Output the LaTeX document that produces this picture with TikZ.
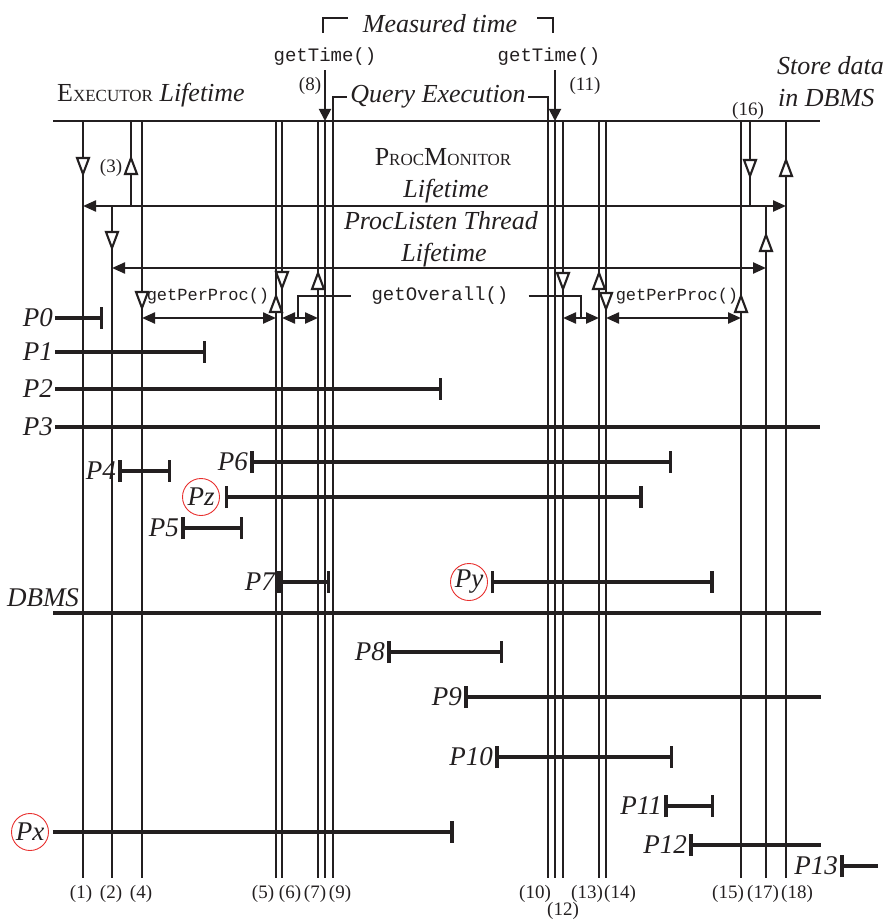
\documentclass[tikz,border=0pt]{standalone}
\usepackage{fontspec}
\setmainfont{Liberation Serif}
\setmonofont{Liberation Mono}
\usetikzlibrary{arrows.meta, calc}
\definecolor{ink}{HTML}{231F20}
\definecolor{ring}{HTML}{E8312F}
\newcommand{\fsc}[2]{#1{\fontsize{17}{19}\selectfont #2}}
\tikzset{
  tridown/.pic={\draw[tri] (-6,-8) -- (6,-8) -- (0,8) -- cycle;},
  triup/.pic={\draw[tri] (-6,8) -- (6,8) -- (0,-8) -- cycle;}
}

\begin{document}
\begin{tikzpicture}[x=1pt, y=-1pt, ink,
    vline/.style={line width=2.7pt},
    life/.style={line width=2.3pt, {Triangle[length=13pt,width=11pt]}-{Triangle[length=13pt,width=11pt]}},
    dbl/.style={line width=2.3pt, {Triangle[length=13pt,width=11pt]}-{Triangle[length=13pt,width=11pt]}},
    tarr/.style={line width=1.9pt, shorten <=4pt, -{Triangle[length=12pt,width=12pt]}},
    brk/.style={line width=2pt},
    proc/.style={line width=3.5pt},
    pbar/.style={{Bar[width=22pt]}-{Bar[width=22pt]}},
    pend/.style={-{Bar[width=22pt]}},
    pstart/.style={{Bar[width=22pt]}-},
    tri/.style={line width=2.1pt, fill=white, line join=miter},
    itx/.style={font=\fontsize{26}{28}\selectfont\itshape, inner sep=0pt},
    plab/.style={font=\fontsize{27}{29}\selectfont\itshape, inner xsep=2pt, inner ysep=0pt, anchor=east},
    pcirc/.style={circle, draw=ring, line width=0.9pt, minimum size=37pt, inner sep=0pt,
                  font=\fontsize{27}{29}\selectfont\itshape},
    num/.style={font=\fontsize{19}{21}\selectfont, inner sep=0pt},
    call/.style={font=\fontsize{19}{21}\selectfont\ttfamily, inner sep=0pt},
    callsm/.style={font=\fontsize{17}{19}\selectfont\ttfamily, inner sep=0pt}
]
\useasboundingbox (0,0) rectangle (891,920);

% levels
\coordinate (ymon) at (0,206);
\coordinate (ylis) at (0,268);
\coordinate (ycall) at (0,318);

% event lines
\foreach \n/\x in {1/83,2/112,3/131,4/142,5/276,6/282,7/318,8/325,9/333,10/548,
                   11/555,12/563,13/599,14/606,15/741,16/750,17/766,18/786}
  {\coordinate (t\n) at (\x,121); \coordinate (b\n) at (\x,878);}

\draw[vline] (53,121) -- (820,121);
\foreach \n in {1,4,5,6,7,8,9,10,11,12,13,14,15,18} {\draw[vline] (t\n) -- (b\n);}
\draw[vline] (t3) -- (t3 |- ymon);
\draw[vline] (t16) -- (t16 |- ymon);
\draw[vline] (t2 |- ymon) -- (b2);
\draw[vline] (t17 |- ymon) -- (b17);

\draw[life] (t1 |- ymon) -- (t18 |- ymon);
\draw[life] (t2 |- ylis) -- (t17 |- ylis);

% headings
\node[itx, anchor=base] (meas) at (440,33) {Measured time};
\draw[brk] (323,33) |- (348,18);
\draw[brk] (537,18) -| (553,33);
\node[call] (gt8) at (325,57) {getTime()};
\node[call] (gt11) at (549,57) {getTime()};
\draw[tarr] (gt8.south) -- (t8);
\draw[tarr] (gt11.south -| t11) -- (t11);
\node[num] (l8) at (310,86) {(8)};
\node[num] (l11) at (585,86) {(11)};

\node[itx] (qe) at (438,97) {Query Execution};
\draw[brk] (t9) |- ([xshift=-3pt]qe.west);
\draw[brk] ([xshift=2pt]qe.east) -| (t10);

\node[anchor=base west, inner sep=0pt] (exl) at (57,102)
  {\fontsize{26}{28}\selectfont\fsc{E}{XECUTOR} \textit{Lifetime}};
\node[itx, anchor=base west] (st1) at (777,75) {Store data};
\node[itx, anchor=base west] (st2) at (778,107) {in DBMS};
\node[num] (l16) at (748,111) {(16)};
\node[num] (l3) at (111,168) {(3)};

\node[anchor=base, inner sep=0pt] (mon) at (443,166)
  {\fontsize{26}{28}\selectfont\fsc{P}{ROC}\fsc{M}{ONITOR}};
\node[itx, anchor=base] (monlt) at (446,197) {Lifetime};
\node[itx, anchor=base] (lis) at (441,229) {ProcListen Thread};
\node[itx, anchor=base] (lislt) at (444,261) {Lifetime};

% monitor calls
\node[callsm] (pp1) at (208,296) {getPerProc()};
\node[callsm] (pp2) at (677,296) {getPerProc()};
\node[call, inner xsep=20pt] (ovr) at (440,296) {getOverall()};
\draw[dbl] (t4 |- ycall) -- (t5 |- ycall);
\draw[dbl] (t6 |- ycall) -- (t7 |- ycall);
\draw[dbl] (t12 |- ycall) -- (t13 |- ycall);
\draw[dbl] (t14 |- ycall) -- (t15 |- ycall);
\draw[brk, line width=1.6pt] ($(t6 |- ycall)!0.45!(t7 |- ycall)$) |- (ovr.west);
\draw[brk, line width=1.6pt] (ovr.east) -| ($(t12 |- ycall)!0.5!(t13 |- ycall)$);

% open triangles
\pic at (t1 |- 0,166) {tridown};
\pic at (t3 |- 0,166) {triup};
\pic at (t2 |- 0,240) {tridown};
\pic at (t4 |- 0,300) {tridown};
\pic at (t5 |- 0,304) {triup};
\pic at (t6 |- 0,280) {tridown};
\pic at (t7 |- 0,281) {triup};
\pic at (t12 |- 0,281) {tridown};
\pic at (t13 |- 0,281) {triup};
\pic at (t14 |- 0,301) {tridown};
\pic at (t15 |- 0,304) {triup};
\pic at (t16 |- 0,168) {tridown};
\pic at (t17 |- 0,243) {triup};
\pic at (t18 |- 0,168) {triup};

% processes
\node[plab] (p0) at (55,318) {P0};
\draw[proc, pend] (p0.east) -- +(48,0);
\node[plab] (p1) at (55,352) {P1};
\draw[proc, pend] (p1.east) -- +(151,0);
\node[plab] (p2) at (55,389) {P2};
\draw[proc, pend] (p2.east) -- +(387,0);
\node[plab] (p3) at (55,427) {P3};
\draw[proc] (p3.east) -- +(765,0);
\node[plab] (p4) at (118,471) {P4};
\draw[proc, pbar] (p4.east) -- +(53,0);
\node[plab] (p6) at (250,462) {P6};
\draw[proc, pbar] (p6.east) -- +(422,0);
\node[pcirc] (pz) at (201,497) {Pz};
\draw[proc, pbar] ([xshift=5pt]pz.east) -- +(418,0);
\node[plab] (p5) at (181,528) {P5};
\draw[proc, pbar] (p5.east) -- +(62,0);
\node[plab] (p7) at (277,582) {P7};
\draw[proc, pbar] (p7.east) -- +(53,0);
\node[pcirc] (py) at (469,582) {Py};
\draw[proc, pbar] ([xshift=3pt]py.east) -- +(223,0);
\node[itx, font=\fontsize{27}{29}\selectfont\itshape] (dbms) at (43,598) {DBMS};
\draw[proc] (53,613) -- (821,613);
\node[plab] (p8) at (387,652) {P8};
\draw[proc, pbar] (p8.east) -- +(116,0);
\node[plab] (p9) at (464,697) {P9};
\draw[proc, pstart] (p9.east) -- +(357,0);
\node[plab] (p10) at (495,757) {P10};
\draw[proc, pbar] (p10.east) -- +(178,0);
\node[plab] (p11) at (664,806) {P11};
\draw[proc, pbar] (p11.east) -- +(50,0);
\node[pcirc] (px) at (30,832) {Px};
\draw[proc, pend] ([xshift=4pt]px.east) -- +(401,0);
\node[plab] (p12) at (689,845) {P12};
\draw[proc, pstart] (p12.east) -- +(132,0);
\node[plab] (p13) at (840,866) {P13};
\draw[proc, pstart] (p13.east) -- +(38,0);

% event numbers
\node[num] (n1) at (81,894) {(1)};
\node[num] (n2) at (111,894) {(2)};
\node[num] (n4) at (141,894) {(4)};
\node[num] (n5) at (263,894) {(5)};
\node[num] (n6) at (290,894) {(6)};
\node[num] (n7) at (315,894) {(7)};
\node[num] (n9) at (340,894) {(9)};
\node[num] (n10) at (535,894) {(10)};
\node[num] (n12) at (563,911) {(12)};
\node[num] (n13) at (587,894) {(13)};
\node[num] (n14) at (620,894) {(14)};
\node[num] (n15) at (728,894) {(15)};
\node[num] (n17) at (763,894) {(17)};
\node[num] (n18) at (797,894) {(18)};
\end{tikzpicture}
\end{document}
